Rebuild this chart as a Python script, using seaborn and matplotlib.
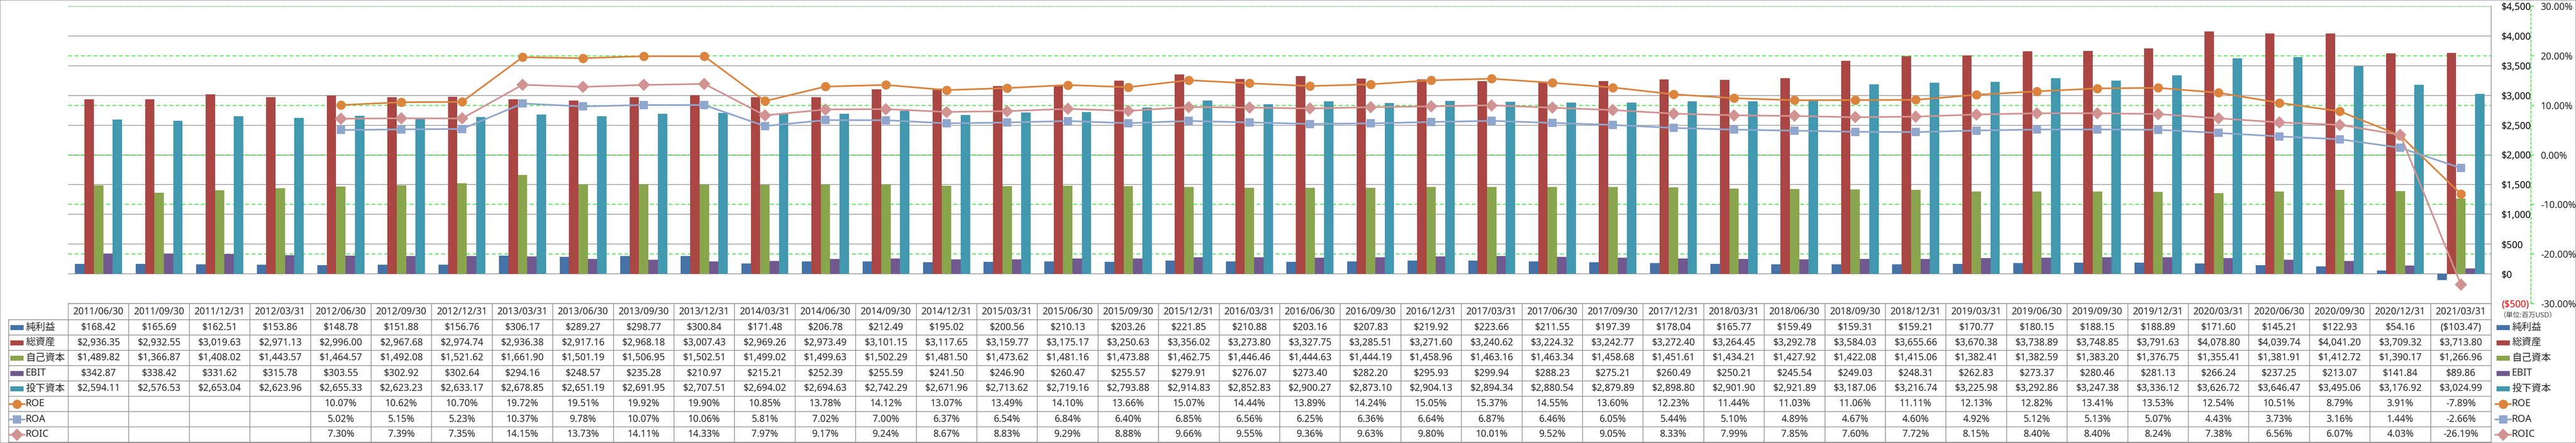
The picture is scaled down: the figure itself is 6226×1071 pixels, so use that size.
import numpy as np
import pandas as pd
import seaborn as sns
import matplotlib.pyplot as plt
import matplotlib.transforms as mtransforms
from matplotlib.patches import Rectangle
from matplotlib.lines import Line2D

# 決算期
dates = [
    "2011/06/30", "2011/09/30", "2011/12/31",
    "2012/03/31", "2012/06/30", "2012/09/30", "2012/12/31",
    "2013/03/31", "2013/06/30", "2013/09/30", "2013/12/31",
    "2014/03/31", "2014/06/30", "2014/09/30", "2014/12/31",
    "2015/03/31", "2015/06/30", "2015/09/30", "2015/12/31",
    "2016/03/31", "2016/06/30", "2016/09/30", "2016/12/31",
    "2017/03/31", "2017/06/30", "2017/09/30", "2017/12/31",
    "2018/03/31", "2018/06/30", "2018/09/30", "2018/12/31",
    "2019/03/31", "2019/06/30", "2019/09/30", "2019/12/31",
    "2020/03/31", "2020/06/30", "2020/09/30", "2020/12/31",
    "2021/03/31",
]

# 単位: 百万USD
net_income = [168.42, 165.69, 162.51, 153.86, 148.78, 151.88, 156.76, 306.17, 289.27, 298.77,
              300.84, 171.48, 206.78, 212.49, 195.02, 200.56, 210.13, 203.26, 221.85, 210.88,
              203.16, 207.83, 219.92, 223.66, 211.55, 197.39, 178.04, 165.77, 159.49, 159.31,
              159.21, 170.77, 180.15, 188.15, 188.89, 171.60, 145.21, 122.93, 54.16, -103.47]
total_assets = [2936.35, 2932.55, 3019.63, 2971.13, 2996.00, 2967.68, 2974.74, 2936.38, 2917.16, 2968.18,
                3007.43, 2969.26, 2973.49, 3101.15, 3117.65, 3159.77, 3175.17, 3250.63, 3356.02, 3273.80,
                3327.75, 3285.51, 3271.60, 3240.62, 3224.32, 3242.77, 3272.40, 3264.45, 3292.78, 3584.03,
                3655.66, 3670.38, 3738.89, 3748.85, 3791.63, 4078.80, 4039.74, 4041.20, 3709.32, 3713.80]
equity = [1489.82, 1366.87, 1408.02, 1443.57, 1464.57, 1492.08, 1521.62, 1661.90, 1501.19, 1506.95,
          1502.51, 1499.02, 1499.63, 1502.29, 1481.50, 1473.62, 1481.16, 1473.88, 1462.75, 1446.46,
          1444.63, 1444.19, 1458.96, 1463.16, 1463.34, 1458.68, 1451.61, 1434.21, 1427.92, 1422.08,
          1415.06, 1382.41, 1382.59, 1383.20, 1376.75, 1355.41, 1381.91, 1412.72, 1390.17, 1266.96]
ebit = [342.87, 338.42, 331.62, 315.78, 303.55, 302.92, 302.64, 294.16, 248.57, 235.28,
        210.97, 215.21, 252.39, 255.59, 241.50, 246.90, 260.47, 255.57, 279.91, 276.07,
        273.40, 282.20, 295.93, 299.94, 288.23, 275.21, 260.49, 250.21, 245.54, 249.03,
        248.31, 262.83, 273.37, 280.46, 281.13, 266.24, 237.25, 213.07, 141.84, 89.86]
invested_capital = [2594.11, 2576.53, 2653.04, 2623.96, 2655.33, 2623.23, 2633.17, 2678.85, 2651.19, 2691.95,
                    2707.51, 2694.02, 2694.63, 2742.29, 2671.96, 2713.62, 2719.16, 2793.88, 2914.83, 2852.83,
                    2900.27, 2873.10, 2904.13, 2894.34, 2880.54, 2879.89, 2898.80, 2901.90, 2921.89, 3187.06,
                    3216.74, 3225.98, 3292.86, 3247.38, 3336.12, 3626.72, 3646.47, 3495.06, 3176.92, 3024.99]

# %
nan = np.nan
roe = [nan, nan, nan, nan, 10.07, 10.62, 10.70, 19.72, 19.51, 19.92,
       19.90, 10.85, 13.78, 14.12, 13.07, 13.49, 14.10, 13.66, 15.07, 14.44,
       13.89, 14.24, 15.05, 15.37, 14.55, 13.60, 12.23, 11.44, 11.03, 11.06,
       11.11, 12.13, 12.82, 13.41, 13.53, 12.54, 10.51, 8.79, 3.91, -7.89]
roa = [nan, nan, nan, nan, 5.02, 5.15, 5.23, 10.37, 9.78, 10.07,
       10.06, 5.81, 7.02, 7.00, 6.37, 6.54, 6.84, 6.40, 6.85, 6.56,
       6.25, 6.36, 6.64, 6.87, 6.46, 6.05, 5.44, 5.10, 4.89, 4.67,
       4.60, 4.92, 5.12, 5.13, 5.07, 4.43, 3.73, 3.16, 1.44, -2.66]
roic = [nan, nan, nan, nan, 7.30, 7.39, 7.35, 14.15, 13.73, 14.11,
        14.33, 7.97, 9.17, 9.24, 8.67, 8.83, 9.29, 8.88, 9.66, 9.55,
        9.36, 9.63, 9.80, 10.01, 9.52, 9.05, 8.33, 7.99, 7.85, 7.60,
        7.72, 8.15, 8.40, 8.40, 8.24, 7.38, 6.56, 6.07, 4.03, -26.19]

bar_names = ["純利益", "総資産", "自己資本", "EBIT", "投下資本"]
bar_colors = ["#4572A7", "#AA4643", "#89A54E", "#71588F", "#4198AF"]
line_names = ["ROE", "ROA", "ROIC"]
line_colors = ["#DB843D", "#8FA6CD", "#D19392"]
line_markers = ["o", "s", "D"]
line_msize = [16, 15, 15]

usd_ticks = list(range(-500, 5000, 500))
pct_ticks = [-30, -20, -10, 0, 10, 20, 30]

sns.set_style("white")
plt.rcParams["font.family"] = ["Noto Sans", "Noto Sans CJK JP", "DejaVu Sans"]

W, H = 6226, 1071
FS = 16.5


def fx(px):
    return px / W


def fy(py):
    return 1 - py / H


def usd(v):
    return f"(${-v:,.2f})" if v < 0 else f"${v:,.2f}"


def pct(v):
    return "" if np.isnan(v) else f"{v:.2f}%"


fig = plt.figure(figsize=(W / 100, H / 100), dpi=100)
ax = fig.add_axes([fx(165), fy(734), fx(6021) - fx(165), fy(15) - fy(734)])

bars = pd.DataFrame({"日付": dates, "純利益": net_income, "総資産": total_assets,
                     "自己資本": equity, "EBIT": ebit, "投下資本": invested_capital})
bars = bars.melt(id_vars="日付", var_name="系列", value_name="値")
sns.barplot(data=bars, x="日付", y="値", hue="系列", order=dates, hue_order=bar_names,
            palette=bar_colors, width=0.776, gap=0, saturation=1, errorbar=None,
            linewidth=0, legend=False, ax=ax)

# secondary axis for the ratios
ax2 = ax.twinx()
idx = np.arange(len(dates))
for name, vals, c, m, ms in zip(line_names, [roe, roa, roic], line_colors, line_markers, line_msize):
    sns.lineplot(x=idx, y=vals, ax=ax2, color=c, marker=m, markersize=ms,
                 markeredgewidth=0, linewidth=2.9, errorbar=None, legend=False)

ax.set_ylim(-500, 4500)
ax.set_xlim(-0.5, len(dates) - 0.5)
ax.set_xlabel("")
ax.set_ylabel("")
ax.yaxis.tick_right()
ax.set_yticks(usd_ticks)
ax.set_yticklabels([f"(${-v:,})" if v < 0 else f"${v:,}" for v in usd_ticks])
for t, v in zip(ax.get_yticklabels(), usd_ticks):
    t.set_color("red" if v < 0 else "black")
ax.tick_params(axis="y", left=False, right=True, labelleft=False, labelright=True,
               length=0, pad=18, labelsize=FS)
ax.tick_params(axis="x", length=0, labelbottom=False)
ax.grid(axis="y", color="#878787", lw=1.1)
ax.grid(axis="x", visible=False)
ax.set_axisbelow(True)
# green dashed gridlines of the % axis, drawn behind the bars
for p in pct_ticks:
    ax.axhline(-500 + (p + 30) / 60 * 5000, color="#00E600", lw=1.1,
               ls=(0, (6, 4)), zorder=0.6)
for s in ["left", "top", "bottom"]:
    ax.spines[s].set_visible(False)
ax.spines["right"].set_color("#878787")
ax.spines["right"].set_linewidth(1.1)

ax2.set_ylim(-30, 30)
ax2.set_yticks(pct_ticks)
ax2.set_yticklabels([f"{v:.2f}%" for v in pct_ticks])
for t, v in zip(ax2.get_yticklabels(), pct_ticks):
    t.set_color("red" if v < 0 else "black")
ax2.tick_params(axis="y", direction="out", length=5.8, width=1.1, color="#00E600",
                pad=11.5, labelsize=FS)
ax2.set_ylabel("")
for s in ["left", "top", "bottom"]:
    ax2.spines[s].set_visible(False)
ax2.spines["right"].set_position(("axes", 1 + (6117 - 6021) / (6021 - 165)))
ax2.spines["right"].set_color("#00E600")
ax2.spines["right"].set_linewidth(1.1)
ax2.spines["right"].set_linestyle((0, (4, 3)))
ax.set_xlim(-0.5, len(dates) - 0.5)

# data table under the chart
blend = mtransforms.blended_transform_factory(ax.transData, fig.transFigure)
grid_c = "#8C8C8C"
row_top = 773
row_h = 37
n_rows = 8
table_bottom = row_top + n_rows * row_h

for i in range(len(dates) + 1):
    fig.add_artist(Line2D([i - 0.5, i - 0.5], [fy(734), fy(table_bottom)],
                          transform=blend, color=grid_c, lw=1.2))
fig.add_artist(Line2D([fx(21), fx(21)], [fy(row_top), fy(table_bottom)],
                      transform=fig.transFigure, color=grid_c, lw=1.2))
fig.add_artist(Line2D([fx(165), fx(6021)], [fy(734), fy(734)],
                      transform=fig.transFigure, color=grid_c, lw=1.2))
for k in range(n_rows + 1):
    yy = fy(row_top + k * row_h)
    fig.add_artist(Line2D([fx(21), fx(6021)], [yy, yy],
                          transform=fig.transFigure, color=grid_c, lw=1.2))

for i, d in enumerate(dates):
    fig.text(i, fy((734 + row_top) / 2), d, transform=blend, ha="center", va="center", fontsize=FS)

rows = [[usd(v) for v in net_income], [usd(v) for v in total_assets], [usd(v) for v in equity],
        [usd(v) for v in ebit], [usd(v) for v in invested_capital],
        [pct(v) for v in roe], [pct(v) for v in roa], [pct(v) for v in roic]]
for k, row in enumerate(rows):
    yc = fy(row_top + (k + 0.5) * row_h)
    for i, txt in enumerate(row):
        fig.text(i, yc, txt, transform=blend, ha="center", va="center", fontsize=FS)


def draw_key(x0, yc, k):
    if k < 5:
        fig.add_artist(Rectangle((fx(x0), fy(yc + 6)), fx(32), 12 / H,
                                 transform=fig.transFigure, color=bar_colors[k], lw=0))
    else:
        j = k - 5
        fig.add_artist(Line2D([fx(x0 - 3), fx(x0 + 35)], [fy(yc), fy(yc)],
                              transform=fig.transFigure, color=line_colors[j], lw=2.9))
        fig.add_artist(Line2D([fx(x0 + 16)], [fy(yc)], transform=fig.transFigure,
                              color=line_colors[j], marker=line_markers[j],
                              markersize=line_msize[j], markeredgewidth=0, lw=0))


all_names = bar_names + line_names
for k, name in enumerate(all_names):
    yc = row_top + (k + 0.5) * row_h
    draw_key(25, yc, k)
    fig.text(fx(62), fy(yc), name, ha="left", va="center", fontsize=FS + 0.5)
    draw_key(6034, yc, k)
    fig.text(fx(6071), fy(yc), name, ha="left", va="center", fontsize=FS + 0.5)

fig.text(fx(6040), fy(762), "（単位:百万USD）", ha="left", va="center", fontsize=12, color="#404040")

fig.add_artist(Rectangle((0, 0), 1, 1, transform=fig.transFigure, fill=False,
                         edgecolor="#8C8C8C", lw=1.5))

fig.savefig("out.png", dpi=100, facecolor="white")
